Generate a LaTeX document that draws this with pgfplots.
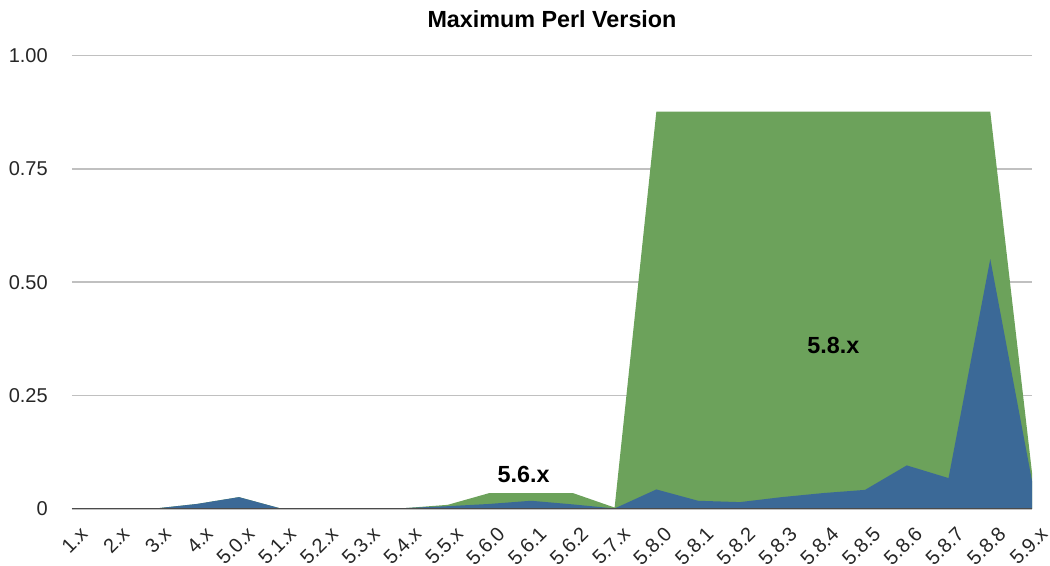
\documentclass[border=0pt]{standalone}
\usepackage{pgfplots}
\usepackage{pgfplotstable}
\pgfplotsset{compat=1.18}
\usepackage{fontspec}
\setmainfont{Liberation Sans}
\definecolor{pgreen}{RGB}{108,162,91}
\definecolor{pblue}{RGB}{59,105,151}
\definecolor{gridc}{RGB}{192,192,192}
\definecolor{basec}{RGB}{75,75,75}
\pgfplotstableread{
i  b      t
0  0      0
1  0      0
2  0.001  0.001
3  0.011  0.011
4  0.026  0.026
5  0.001  0.001
6  0.001  0.001
7  0.001  0.001
8  0.002  0.002
9  0.006  0.009
10 0.011  0.035
11 0.018  0.035
12 0.010  0.035
13 0.001  0.003
14 0.043  0.876
15 0.018  0.876
16 0.015  0.876
17 0.026  0.876
18 0.035  0.876
19 0.042  0.876
20 0.096  0.876
21 0.068  0.876
22 0.551  0.876
23 0.062  0.080
}\datatable
\begin{document}
\begin{tikzpicture}
\begin{axis}[
  scale only axis, width=720pt, height=340.1pt,
  xmin=0, xmax=23, ymin=0, ymax=1,
  axis line style={draw=none},
  major tick length=0pt,
  ymajorgrids, grid style={gridc, line width=1.1pt},
  xtick={0,...,23},
  xticklabels={1.x,2.x,3.x,4.x,5.0.x,5.1.x,5.2.x,5.3.x,5.4.x,5.5.x,5.6.0,5.6.1,5.6.2,5.7.x,5.8.0,5.8.1,5.8.2,5.8.3,5.8.4,5.8.5,5.8.6,5.8.7,5.8.8,5.9.x},
  ytick={0,0.25,0.5,0.75,1},
  yticklabels={0,0.25,0.50,0.75,1.00},
  ticklabel style={font=\fontsize{15}{18}\selectfont, text=black!85, inner sep=0pt},
  xticklabel style={xshift=9pt, yshift=-16pt, rotate=45, anchor=east},
  yticklabel style={anchor=east, xshift=-18pt},
  /pgf/number format/assume math mode=true,
]
\addplot[fill=pgreen, draw=none] table[x=i, y=t] {\datatable} \closedcycle;
\addplot[fill=pblue, draw=none] table[x=i, y=b] {\datatable} \closedcycle;
\draw[basec, line width=1.3pt] (axis cs:0,0) -- (axis cs:23,0);
\node[font=\bfseries\fontsize{17.5}{20}\selectfont] at (axis cs:10.82,0.077) {5.6.x};
\node[font=\bfseries\fontsize{17.5}{20}\selectfont] at (axis cs:18.24,0.3605) {5.8.x};
\end{axis}
\node[font=\bfseries\fontsize{17.5}{20}\selectfont] at ([yshift=27.4pt]current axis.north) {Maximum Perl Version};
\pgfresetboundingbox
\path ([xshift=-54pt,yshift=-42.75pt]current axis.south west) rectangle ([xshift=13.5pt,yshift=41.6pt]current axis.north east);
\end{tikzpicture}
\end{document}
